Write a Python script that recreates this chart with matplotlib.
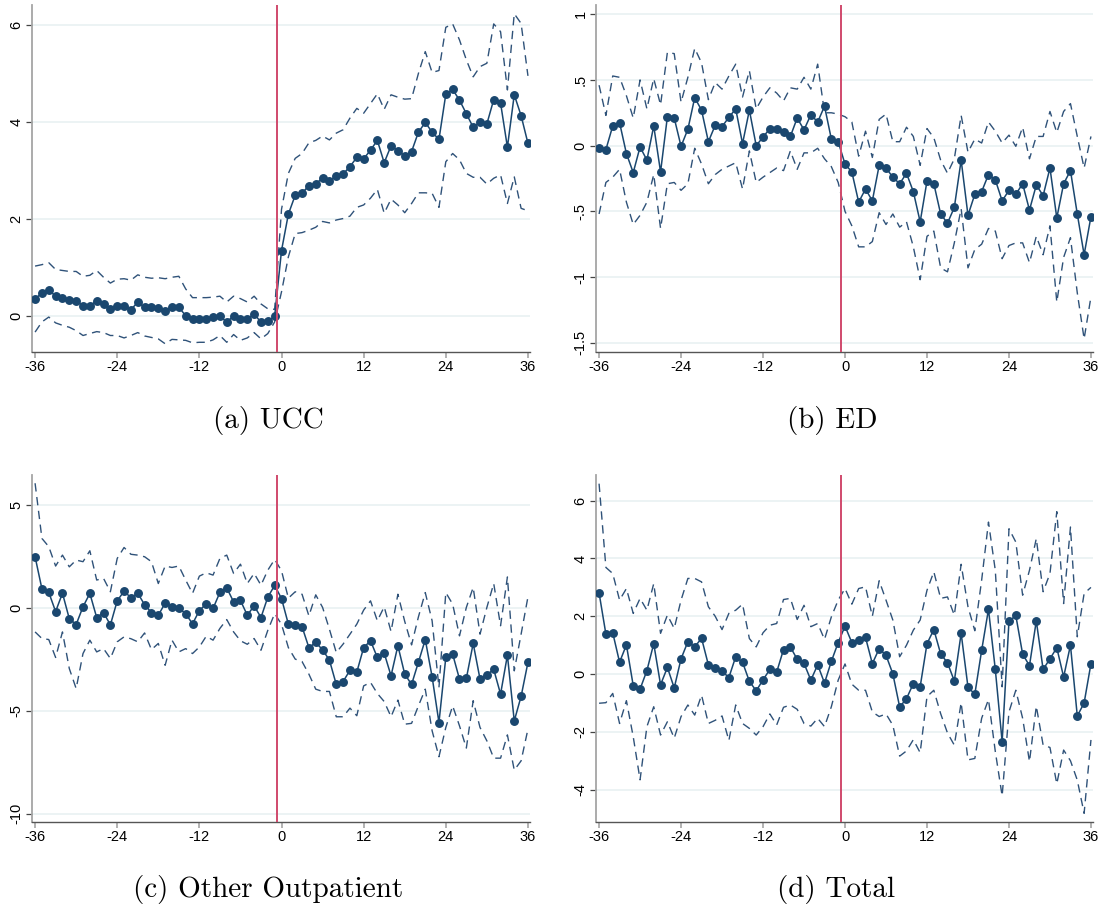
import numpy as np
import matplotlib.pyplot as plt

plt.rcParams['axes.unicode_minus'] = False
plt.rcParams['font.family'] = ['Liberation Sans', 'DejaVu Sans']

months = list(range(-36, 37))

# (a) UCC
ucc_est = [0.36, 0.47, 0.54, 0.41, 0.37, 0.34, 0.32, 0.21, 0.21, 0.32, 0.25, 0.15, 0.20, 0.21, 0.13, 0.29, 0.18, 0.18,
           0.16, 0.11, 0.18, 0.18, 0.01, -0.07, -0.06, -0.07, -0.01, 0.01, -0.13, 0.01, -0.07, -0.07, 0.05, -0.13, -0.11, 0.0,
           1.35, 2.10, 2.49, 2.53, 2.69, 2.72, 2.85, 2.79, 2.88, 2.93, 3.08, 3.27, 3.24, 3.42, 3.62, 3.16, 3.51, 3.41,
           3.30, 3.39, 3.79, 3.99, 3.79, 3.64, 4.57, 4.67, 4.45, 4.17, 3.89, 4.00, 3.96, 4.46, 4.39, 3.48, 4.56, 4.13, 3.56]
ucc_hi = [1.03, 1.06, 1.10, 0.96, 0.94, 0.92, 0.92, 0.82, 0.84, 0.94, 0.80, 0.68, 0.76, 0.77, 0.74, 0.85, 0.80, 0.78,
          0.79, 0.77, 0.80, 0.82, 0.56, 0.38, 0.38, 0.38, 0.39, 0.41, 0.29, 0.41, 0.36, 0.29, 0.41, 0.25, 0.15, 0.14,
          2.20, 2.94, 3.25, 3.35, 3.57, 3.62, 3.71, 3.63, 3.77, 3.84, 4.08, 4.28, 4.18, 4.38, 4.58, 4.26, 4.56, 4.51,
          4.47, 4.48, 5.00, 5.45, 5.02, 5.06, 5.95, 6.02, 5.69, 5.28, 4.93, 5.14, 5.21, 6.02, 5.86, 4.66, 6.23, 6.03, 4.95]
ucc_lo = [-0.33, -0.12, -0.02, -0.14, -0.19, -0.23, -0.30, -0.40, -0.36, -0.32, -0.34, -0.40, -0.40, -0.45, -0.40, -0.34,
          -0.41, -0.44, -0.47, -0.57, -0.48, -0.49, -0.50, -0.55, -0.54, -0.54, -0.49, -0.40, -0.54, -0.38, -0.50, -0.45,
          -0.34, -0.47, -0.36, -0.12,
          0.50, 1.22, 1.70, 1.72, 1.77, 1.83, 1.95, 1.92, 1.98, 2.01, 2.06, 2.24, 2.29, 2.43, 2.61, 2.12, 2.41, 2.29,
          2.13, 2.32, 2.54, 2.54, 2.53, 2.24, 3.18, 3.35, 3.22, 2.94, 2.86, 2.86, 2.72, 2.84, 2.91, 2.32, 2.87, 2.22, 2.17]

# (b) ED
ed_est = [-0.02, -0.03, 0.15, 0.175, -0.06, -0.205, -0.01, -0.11, 0.15, -0.20, 0.22, 0.21, -0.005, 0.125, 0.365, 0.27,
          0.03, 0.155, 0.145, 0.215, 0.28, 0.015, 0.27, 0.0, 0.065, 0.13, 0.125, 0.10, 0.07, 0.21, 0.12, 0.235, 0.18,
          0.30, 0.05, 0.03,
          -0.14, -0.20, -0.43, -0.33, -0.42, -0.15, -0.17, -0.24, -0.29, -0.21, -0.35, -0.58, -0.27, -0.29, -0.52,
          -0.59, -0.47, -0.11, -0.53, -0.37, -0.35, -0.22, -0.26, -0.42, -0.34, -0.37, -0.29, -0.49, -0.30, -0.38,
          -0.17, -0.55, -0.29, -0.19, -0.52, -0.83, -0.54]
ed_hi = [0.46, 0.23, 0.53, 0.52, 0.38, 0.21, 0.50, 0.28, 0.51, 0.31, 0.71, 0.70, 0.33, 0.52, 0.74, 0.63, 0.35, 0.48,
         0.43, 0.53, 0.62, 0.37, 0.57, 0.28, 0.37, 0.44, 0.40, 0.34, 0.44, 0.43, 0.52, 0.43, 0.62, 0.25, 0.25, 0.24,
         0.22, 0.18, -0.08, 0.11, -0.09, 0.20, 0.24, 0.03, 0.03, 0.14, 0.07, -0.15, 0.13, 0.06, -0.11, -0.21, -0.10,
         0.23, -0.05, 0.05, 0.02, 0.18, 0.11, 0.02, 0.08, -0.005, 0.14, -0.10, 0.07, 0.07, 0.26, 0.10, 0.26, 0.32,
         0.07, -0.17, 0.07]
ed_lo = [-0.52, -0.28, -0.24, -0.18, -0.43, -0.60, -0.53, -0.43, -0.22, -0.63, -0.29, -0.28, -0.34, -0.29, -0.02,
         -0.14, -0.29, -0.22, -0.18, -0.155, -0.13, -0.33, -0.04, -0.28, -0.24, -0.205, -0.17, -0.19, -0.04, -0.18,
         -0.055, -0.055, -0.02, -0.10, -0.16, -0.28,
         -0.50, -0.61, -0.77, -0.77, -0.73, -0.51, -0.60, -0.52, -0.62, -0.58, -0.77, -1.02, -0.69, -0.65, -0.93,
         -0.96, -0.74, -0.48, -0.93, -0.79, -0.75, -0.63, -0.65, -0.86, -0.76, -0.74, -0.74, -0.89, -0.69, -0.83,
         -0.61, -1.19, -0.85, -0.70, -1.12, -1.47, -1.15]

# (c) Other Outpatient
opd_est = [2.48, 0.92, 0.75, -0.18, 0.71, -0.53, -0.81, 0.05, 0.70, -0.47, -0.23, -0.83, 0.34, 0.81, 0.49, 0.71, 0.15,
           -0.23, -0.36, 0.23, 0.05, -0.02, -0.28, -0.78, -0.13, 0.19, -0.03, 0.75, 0.97, 0.29, 0.36, -0.36, 0.10,
           -0.47, 0.52, 1.09,
           0.45, -0.79, -0.84, -0.92, -1.93, -1.68, -2.04, -2.54, -3.72, -3.58, -3.03, -3.12, -1.93, -1.60, -2.41,
           -2.20, -3.30, -1.84, -3.22, -3.72, -2.64, -1.54, -3.35, -5.57, -2.41, -2.25, -3.46, -3.43, -1.73, -3.46,
           -3.25, -2.99, -4.19, -2.30, -5.49, -4.30, -2.65]
opd_hi = [6.05, 3.37, 2.97, 2.03, 2.56, 1.99, 2.32, 2.24, 2.77, 1.35, 1.43, 0.78, 2.40, 2.93, 2.60, 2.56, 2.48, 2.24,
          1.18, 2.03, 1.96, 2.03, 1.35, 0.70, 1.54, 1.70, 1.59, 2.40, 2.56, 1.67, 2.12, 1.18, 1.67, 1.10, 1.83, 2.35,
          1.80, 0.47, 0.78, 0.66, -0.39, 0.63, 0.02, -1.04, -2.17, -1.76, -1.28, -0.79, -0.11, 0.34, -0.63, 0.05,
          -1.15, 0.66, -0.66, -1.80, -0.44, 0.74, -0.63, -3.87, 0.74, 0.18, -1.36, 0.02, 0.99, -1.28, 0.02, 1.18,
          -0.87, 1.50, -3.06, -1.28, 0.53]
opd_lo = [-1.17, -1.49, -1.54, -2.41, -1.17, -2.95, -3.92, -2.22, -1.57, -2.14, -1.98, -2.46, -1.65, -1.41, -1.50,
          -1.65, -1.22, -2.03, -1.73, -2.79, -1.57, -2.14, -1.98, -2.22, -1.90, -1.38, -1.57, -1.00, -0.57, -1.17,
          -1.60, -1.77, -1.49, -2.06, -1.09, -0.28,
          -0.80, -1.93, -2.49, -2.61, -3.22, -3.95, -4.06, -4.06, -5.29, -5.29, -4.87, -5.24, -3.79, -3.62, -4.16,
          -4.55, -5.29, -4.48, -5.65, -5.61, -4.76, -3.95, -5.97, -7.23, -5.81, -4.76, -5.73, -6.81, -4.51, -5.81,
          -6.46, -7.30, -7.30, -6.17, -7.88, -7.43, -5.89]

# (d) Total
tot_est = [2.81, 1.38, 1.43, 0.41, 1.01, -0.40, -0.52, 0.12, 1.05, -0.37, 0.23, -0.48, 0.53, 1.12, 0.94, 1.24, 0.32,
           0.20, 0.10, -0.12, 0.60, 0.41, -0.25, -0.58, -0.20, 0.16, 0.07, 0.85, 0.94, 0.51, 0.37, -0.21, 0.32, -0.31,
           0.44, 1.09,
           1.66, 1.09, 1.19, 1.27, 0.36, 0.88, 0.65, 0.01, -1.14, -0.85, -0.33, -0.44, 1.05, 1.54, 0.70, 0.39, -0.24,
           1.41, -0.45, -0.70, 0.82, 2.24, 0.16, -2.34, 1.82, 2.03, 0.69, 0.29, 1.84, 0.16, 0.53, 0.91, -0.10, 1.00,
           -1.45, -1.00, 0.36]
tot_hi = [6.59, 3.69, 3.48, 2.56, 2.96, 2.10, 2.62, 2.21, 3.13, 1.41, 2.04, 1.58, 2.56, 3.31, 3.31, 3.19, 2.33, 2.00,
          1.54, 2.10, 2.21, 2.42, 1.23, 0.94, 1.43, 1.69, 1.75, 2.58, 2.62, 1.89, 2.38, 1.64, 1.75, 1.20, 1.98, 2.56,
          2.96, 2.42, 2.96, 3.02, 2.00, 3.23, 2.56, 1.87, 0.60, 1.00, 1.52, 1.87, 2.90, 3.54, 2.62, 2.67, 2.04, 3.80,
          2.33, 1.50, 3.25, 5.26, 3.59, -0.44, 5.03, 4.57, 2.73, 3.59, 4.69, 2.85, 3.48, 5.62, 2.44, 5.09, 1.29,
          2.79, 3.00]
tot_lo = [-1.01, -0.99, -0.67, -1.71, -0.92, -2.17, -3.66, -1.82, -1.13, -2.11, -1.65, -2.22, -1.47, -1.07, -1.42,
          -0.73, -1.71, -1.60, -1.45, -2.30, -1.07, -1.71, -1.88, -2.11, -1.82, -1.38, -1.76, -1.15, -1.07, -1.22,
          -1.71, -1.80, -1.53, -1.82, -1.13, -0.21,
          0.35, -0.35, -0.56, -0.56, -1.31, -1.47, -1.38, -1.77, -2.84, -2.66, -2.27, -2.72, -0.78, -0.56, -1.37,
          -2.04, -2.46, -0.99, -2.97, -2.92, -1.53, -0.88, -2.68, -4.22, -1.31, -0.56, -1.53, -3.03, -1.11, -2.46,
          -2.54, -3.80, -2.63, -3.00, -3.67, -4.82, -2.28]

x_ticks = [-36, -24, -12, 0, 12, 24, 36]

navy = '#1a476f'
dash_col = '#2f5279'
red = '#d04a6c'
grid_col = '#eaf2f3'

W, H = 1105, 913
fig = plt.figure(figsize=(W / 100, H / 100), dpi=100)


def add_panel(box, est, lo, hi, yticks, ylabels, ylim, caption, cap_x, cap_y):
    l, t, r, b = box
    ax = fig.add_axes([l / W, 1 - b / H, (r - l) / W, (b - t) / H])
    ax.plot(months, hi, color=dash_col, lw=1.0, ls=(0, (6, 4)))
    ax.plot(months, lo, color=dash_col, lw=1.0, ls=(0, (6, 4)))
    ax.plot(months, est, color=navy, lw=1.1, marker='o', ms=5.4, zorder=3)
    ax.axvline(-0.6, color=red, lw=1.4, zorder=4)

    ax.set_xlim(-36.45, 36.3)
    ax.set_ylim(*ylim)
    ax.set_xticks(x_ticks)
    ax.set_xticklabels([str(v) for v in x_ticks], fontsize=10.5)
    ax.set_yticks(yticks)
    ax.set_yticklabels(ylabels, fontsize=10.5)
    for lab in ax.get_yticklabels():
        lab.set_rotation(90)
        lab.set_va('center')

    ax.yaxis.grid(True, color=grid_col, lw=1.3)
    ax.set_axisbelow(True)
    for s in ['top', 'right']:
        ax.spines[s].set_visible(False)
    ax.spines['left'].set_color('#a5a5a5')
    ax.spines['left'].set_linewidth(1.3)
    ax.spines['bottom'].set_color('#555555')
    ax.spines['bottom'].set_linewidth(1.0)
    ax.tick_params(axis='x', length=4, width=1.2, color='#a5a5a5', pad=2)
    ax.tick_params(axis='y', length=4, width=0.9, color='#444444', pad=2)

    fig.text(cap_x / W, 1 - cap_y / H, caption, fontsize=21, family='cmr10', ha='center', va='center')
    return ax


add_panel((32, 5, 530, 352), ucc_est, ucc_lo, ucc_hi, [0, 2, 4, 6], ['0', '2', '4', '6'],
          (-0.74, 6.41), '(a) UCC', 268, 420)
add_panel((596, 5, 1093, 352), ed_est, ed_lo, ed_hi, [-1.5, -1, -0.5, 0, 0.5, 1],
          ['-1.5', '-1', '-.5', '0', '.5', '1'], (-1.57, 1.07), '(b) ED', 832, 420)
add_panel((32, 475, 530, 822), opd_est, opd_lo, opd_hi, [-10, -5, 0, 5], ['-10', '-5', '0', '5'],
          (-10.4, 6.45), '(c) Other Outpatient', 268, 889)
add_panel((596, 475, 1093, 822), tot_est, tot_lo, tot_hi, [-4, -2, 0, 2, 4, 6], ['-4', '-2', '0', '2', '4', '6'],
          (-5.12, 6.89), '(d) Total', 836, 889)

fig.savefig('out.png', dpi=100)
